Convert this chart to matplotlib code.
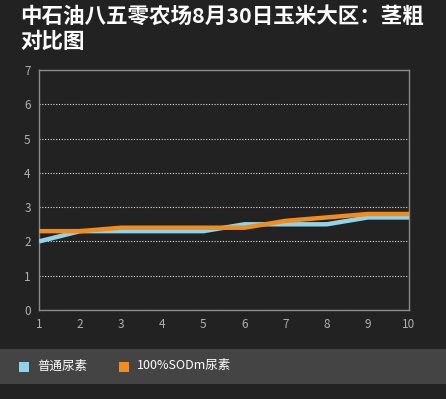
import matplotlib
matplotlib.use("Agg")
import matplotlib.pyplot as plt
from matplotlib.patches import Rectangle

plt.rcParams["font.family"] = ["Noto Sans CJK SC", "DejaVu Sans"]

# Dados
dias = [1, 2, 3, 4, 5, 6, 7, 8, 9, 10]
putong = [2.0, 2.3, 2.3, 2.3, 2.3, 2.5, 2.5, 2.5, 2.7, 2.7]
sodm = [2.3, 2.3, 2.4, 2.4, 2.4, 2.4, 2.6, 2.7, 2.8, 2.8]
nomes = ["普通尿素", "100%SODm尿素"]
cores = ["#8fd4ea", "#f28c1c"]
titulo = "中石油八五零农场8月30日玉米大区：茎粗\n对比图"

fundo = "#222222"
fig = plt.figure(figsize=(4.46, 3.99), dpi=100, facecolor=fundo)
ax = fig.add_axes([39 / 446, 1 - 310 / 399, 370 / 446, 240 / 399])
ax.set_facecolor(fundo)

ax.plot(dias, putong, color=cores[0], linewidth=3.2, solid_capstyle="butt", zorder=3)
ax.plot(dias, sodm, color=cores[1], linewidth=3.2, solid_capstyle="butt", zorder=4)

ax.set_xlim(1, 10)
ax.set_ylim(0, 7)
ax.set_xticks(dias)
ax.set_yticks(range(0, 8))
ax.tick_params(colors="#b0b0b0", labelsize=8.5, length=0, pad=6)
for s in ax.spines.values():
    s.set_color("#8a8a8a")
    s.set_linewidth(1)
ax.yaxis.grid(True, color="#e0e0e0", linestyle=(0, (1, 1.5)), linewidth=0.8)
ax.set_axisbelow(True)

fig.text(20 / 446, 1 - 6 / 399, titulo, color="white", fontsize=15.5,
         fontweight="bold", va="top", ha="left", linespacing=1.25)

# Faixa da legenda
fig.patches.append(Rectangle((0, 1 - 384 / 399), 1, 35 / 399, transform=fig.transFigure,
                             facecolor="#444444", edgecolor="none"))
xs = [19, 119]
for x, nome, cor in zip(xs, nomes, cores):
    fig.patches.append(Rectangle((x / 446, 1 - 372 / 399), 10 / 446, 10 / 399,
                                 transform=fig.transFigure, facecolor=cor, edgecolor="none"))
    fig.text((x + 18) / 446, 1 - 366 / 399, nome, color="white", fontsize=9, va="center")

plt.savefig("out.png", dpi=100, facecolor=fundo)
plt.close()
